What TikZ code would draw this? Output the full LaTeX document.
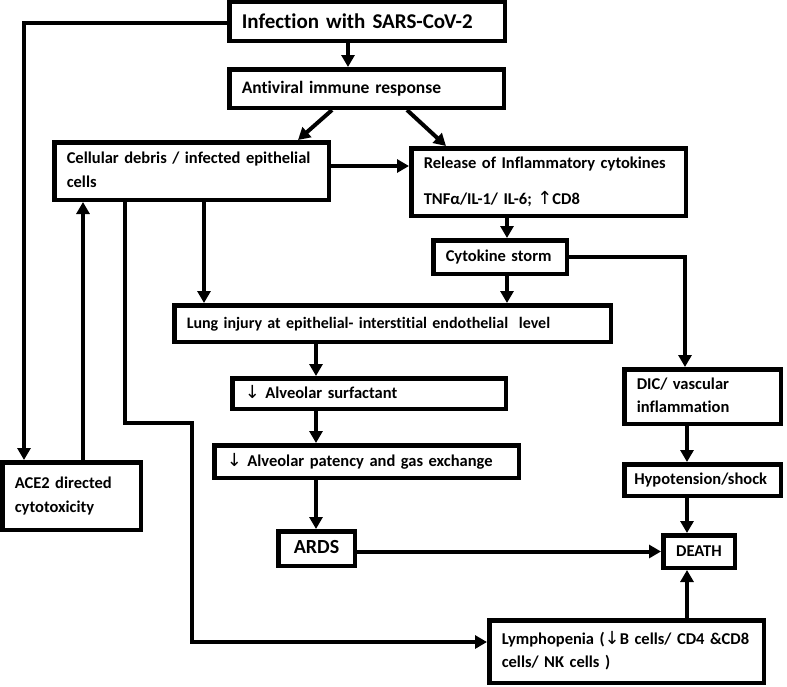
\documentclass[tikz,border=0pt]{standalone}
\usepackage{fontspec}
\setmainfont{Carlito}[Ligatures=NoCommon]
\newfontfamily\arrf{DejaVu Sans}
\usetikzlibrary{arrows.meta,calc}
\newcommand\myDown{{\arrf\mdseries\fontsize{18}{18}\selectfont ↓}}
\newcommand\myUp{{\arrf\mdseries\fontsize{18}{18}\selectfont ↑}}
\begin{document}
\begin{tikzpicture}[x=1pt,y=-1pt,
  bx/.style={draw, line width=4.5pt, align=left, inner xsep=12.5pt, inner ysep=0pt,
    font=\bfseries\fontsize{16.5}{23.5}\selectfont},
  arr/.style={line width=4pt, -{Triangle[width=13pt,length=12pt]}}]
\useasboundingbox (0,0) rectangle (787,686);

% boxes
\node[bx, minimum width=275.5pt, minimum height=39.5pt, text width=250.5pt,
  font=\bfseries\fontsize{21}{25}\selectfont] (inf) at (367,21) {\rule[-4pt]{0pt}{22pt}Infection with SARS-CoV-2};
\node[bx, minimum width=274.5pt, minimum height=38.5pt, text width=249.5pt,
  font=\bfseries\fontsize{17.5}{23.5}\selectfont] (anti) at (366.5,88.5) {\strut Antiviral immune response};
\node[bx, minimum width=274.5pt, minimum height=57.5pt, text width=249.5pt] (cell) at (191.5,171)
  {\strut Cellular debris / infected epithelial\\\strut cells};
\node[bx, minimum width=274.5pt, minimum height=67.5pt, text width=249.5pt] (rel) at (548.5,182)
  {\strut Release of Inflammatory cytokines\\[12.5pt]\strut TNFα/IL-1/ IL-6; \myUp CD8};
\node[bx, minimum width=133.5pt, minimum height=33.5pt, text width=108.5pt] (storm) at (500,257)
  {\strut Cytokine storm};
\node[bx, minimum width=436.5pt, minimum height=36.5pt, text width=411.5pt,
  font=\bfseries\fontsize{16}{23.5}\selectfont] (lung) at (392.5,323.5)
  {\strut Lung injury at epithelial- interstitial endothelial\ \ level};
\node[bx, minimum width=273.5pt, minimum height=30.5pt, text width=248.5pt] (surf) at (369,393.5)
  {\strut\myDown\ Alveolar surfactant};
\node[bx, minimum width=304.5pt, minimum height=32.5pt, text width=279.5pt] (pat) at (366.5,461.5)
  {\strut\myDown\ Alveolar patency and gas exchange};
\node[bx, minimum width=76.5pt, minimum height=34.5pt, align=center, inner xsep=4pt,
  font=\bfseries\fontsize{20}{24}\selectfont] (ards) at (316.5,548.5) {\strut ARDS};
\node[bx, minimum width=71.5pt, minimum height=32.5pt, align=center, inner xsep=2pt] (death) at (699,551.5)
  {\strut DEATH};
\node[bx, minimum width=156.5pt, minimum height=54.5pt, text width=131.5pt] (dic) at (702.5,396.5)
  {\strut DIC/ vascular\\\strut inflammation};
\node[bx, minimum width=156.5pt, minimum height=31.5pt, inner xsep=10pt, text width=136.5pt] (hypo) at (702.5,480)
  {\strut Hypotension/shock};
\node[bx, minimum width=274.5pt, minimum height=62.5pt, text width=249.5pt] (lymph) at (626.5,651.5)
  {\strut Lymphopenia (\myDown B cells/ CD4 \&CD8\\\strut cells/ NK cells )};
\node[bx, minimum width=138.5pt, minimum height=67.5pt, text width=113.5pt] (ace) at (71.5,496)
  {\strut ACE2 directed\\\strut cytotoxicity};

% helper coordinates
\coordinate (X348) at (348,0);
\coordinate (X332) at (332,0);
\coordinate (X298) at (298,0);
\coordinate (X407) at (407,0);
\coordinate (X446) at (446,0);
\coordinate (X507) at (507,0);
\coordinate (X685) at (685,0);
\coordinate (X204) at (204,0);
\coordinate (X316) at (316,0);
\coordinate (X687) at (687,0);
\coordinate (X83) at (83,0);
\coordinate (b1) at (125,423);
\coordinate (b2) at (192,423);
\coordinate (b3) at (192,642);
\coordinate (b4) at (24,23);
\coordinate (c1) at ([yshift=5pt]cell.east);

% connectors
\draw[arr] (inf.south -| X348) -- (anti.north -| X348);
\draw[arr] (anti.south -| X332) -- (cell.north -| X298);
\draw[arr] (anti.south -| X407) -- (rel.north -| X446);
\draw[arr] (c1) -- (c1 -| rel.west);
\draw[arr] (rel.south -| X507) -- (storm.north -| X507);
\draw[arr] (storm.south -| X507) -- (lung.north -| X507);
\draw[arr] (storm.east) -| (dic.north -| X685);
\draw[arr] (cell.south -| X204) -- (lung.north -| X204);
\draw[arr] (lung.south -| X316) -- (surf.north -| X316);
\draw[arr] (surf.south -| X316) -- (pat.north -| X316);
\draw[arr] (pat.south -| X316) -- (ards.north -| X316);
\draw[arr] (ards.east |- death.west) -- (death.west);
\draw[arr] (dic.south -| X687) -- (hypo.north -| X687);
\draw[arr] (hypo.south -| X687) -- (death.north -| X687);
\draw[arr] (lymph.north -| X687) -- (death.south -| X687);
\draw[arr] (cell.south -| b1) -- (b1) -- (b2) -- (b3) -- (b3 -| lymph.west);
\draw[arr] (b4 -| inf.west) -- (b4) -- (ace.north -| b4);
\draw[arr] (ace.north -| X83) -- (cell.south -| X83);
\end{tikzpicture}
\end{document}
